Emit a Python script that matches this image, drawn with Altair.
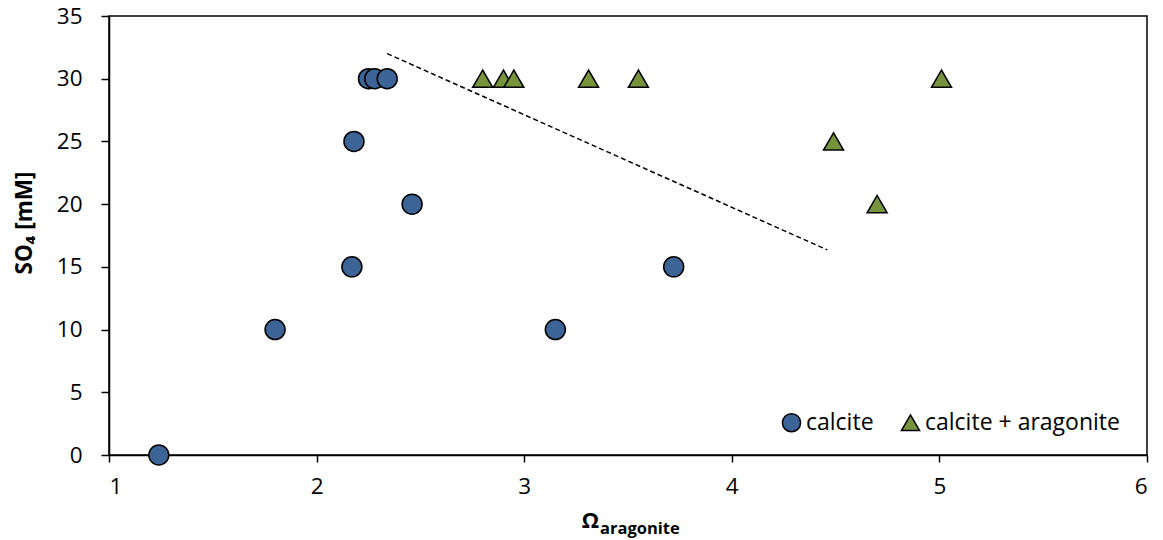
import altair as alt
import pandas as pd

# --- data ---
calcite_x = [1.24, 1.80, 2.17, 2.18, 2.46, 2.25, 2.28, 2.34, 3.15, 3.72]
calcite_y = [0, 10, 15, 25, 20, 30, 30, 30, 10, 15]
arag_x = [2.80, 2.90, 2.95, 3.31, 3.55, 4.49, 4.70, 5.01]
arag_y = [30, 30, 30, 30, 30, 25, 20, 30]
trend_x = [2.34, 4.46]
trend_y = [32.0, 16.35]
series_names = ["calcite", "calcite + aragonite"]
x_ticks = [1, 2, 3, 4, 5, 6]
y_ticks = [0, 5, 10, 15, 20, 25, 30, 35]

FONT = "Open Sans"

pts = pd.DataFrame(
    {
        "x": calcite_x + arag_x,
        "y": calcite_y + arag_y,
        "series": [series_names[0]] * len(calcite_x) + [series_names[1]] * len(arag_x),
    }
)
trend = pd.DataFrame({"x": trend_x, "y": trend_y})

xs = alt.Scale(domain=[1, 6], nice=False, zero=False)
ys = alt.Scale(domain=[0, 35], nice=False, zero=False)

xax = alt.Axis(values=x_ticks, grid=False, title=None, labelFont=FONT, labelFontSize=22.5,
               labelColor="black", domainColor="black", tickColor="black", domainWidth=1.5,
               tickWidth=1.5, tickSize=7, labelPadding=13, format="d")
yax = alt.Axis(values=y_ticks, grid=False, title=None, labelFont=FONT, labelFontSize=22.5,
               labelColor="black", domainColor="black", tickColor="black", domainWidth=1.5,
               tickWidth=1.5, tickSize=8, labelPadding=19, format="d")

line = alt.Chart(trend).mark_line(color="black", strokeWidth=1.5, strokeDash=[5, 3]).encode(
    x=alt.X("x:Q", scale=xs, axis=xax),
    y=alt.Y("y:Q", scale=ys, axis=yax),
)

points = alt.Chart(pts).mark_point(filled=True, opacity=1, stroke="black", strokeWidth=1.5, size=400).encode(
    x=alt.X("x:Q", scale=xs, axis=xax),
    y=alt.Y("y:Q", scale=ys, axis=yax),
    color=alt.Color("series:N", scale=alt.Scale(domain=series_names, range=["#3C6497", "#77933C"]),
                    legend=alt.Legend(title=None, orient="none", direction="horizontal",
                                      legendX=671, legendY=395, labelFont=FONT, labelFontSize=23,
                                      labelColor="black", symbolSize=330, symbolStrokeColor="black",
                                      symbolStrokeWidth=1.5, symbolOpacity=1, columnPadding=24,
                                      labelOffset=3, padding=0, labelLimit=0)),
    shape=alt.Shape("series:N", scale=alt.Scale(domain=series_names, range=["circle", "triangle-up"]),
                    legend=None),
)

one = pd.DataFrame({"a": [0]})
ytitle = alt.Chart(one).mark_text(font=FONT, fontSize=22.5, fontWeight="bold", angle=270,
                                  color="black").encode(
    x=alt.value(-84), y=alt.value(207), text=alt.value("SO₄ [mM]"))
omega = alt.Chart(one).mark_text(font=FONT, fontSize=22, fontWeight="bold", align="right",
                                 baseline="alphabetic", color="black").encode(
    x=alt.value(490), y=alt.value(512), text=alt.value("Ω"))
sub = alt.Chart(one).mark_text(font=FONT, fontSize=16.5, fontWeight="bold", align="left",
                               baseline="alphabetic", color="black").encode(
    x=alt.value(491), y=alt.value(518), text=alt.value("aragonite"))

chart = alt.layer(line, points, ytitle, omega, sub).properties(
    width=1038, height=439,
    autosize=alt.AutoSizeParams(type="none"),
    padding={"left": 101, "top": 8, "right": 8, "bottom": 90},
).configure_view(stroke="black", strokeWidth=1.5)

chart.save("out.html", embed_options={"renderer": "svg", "actions": False})
